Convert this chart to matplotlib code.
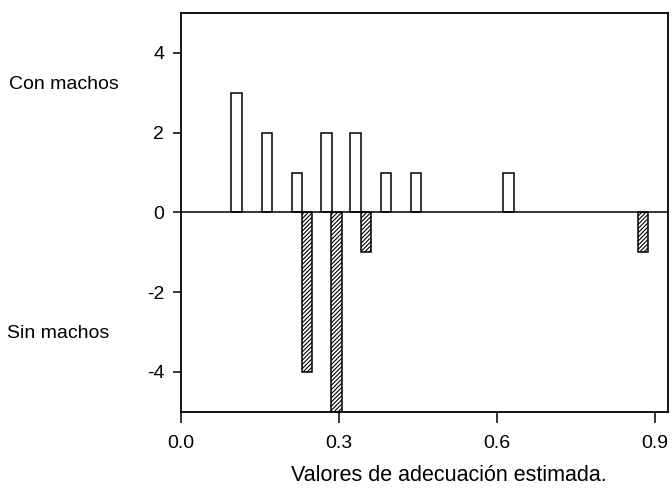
import numpy as np
import matplotlib.pyplot as plt

plt.rcParams['font.family'] = ['Liberation Sans', 'DejaVu Sans']
plt.rcParams['hatch.linewidth'] = 0.8
plt.rcParams['hatch.color'] = '#333333'

# positive bars ("Con machos")
x_con = [0.105, 0.163, 0.220, 0.276, 0.332, 0.389, 0.446, 0.622]
y_con = [3, 2, 1, 2, 2, 1, 1, 1]
# negative bars ("Sin machos")
x_sin = [0.239, 0.295, 0.351, 0.878]
y_sin = [-4, -5, -1, -1]

xticks = [0.0, 0.3, 0.6, 0.9]
xtick_labels = ['0.0', '0.3', '0.6', '0.9']
yticks = [4, 2, 0, -2, -4]
ytick_labels = ['4', '2', '0', '-2', '-4']

fig = plt.figure(figsize=(6.72, 4.98), dpi=100)
ax = fig.add_axes([0.2693, 0.173, 0.7247, 0.801])

ax.bar(x_con, y_con, width=0.02, color='white', edgecolor='black', linewidth=1.1, zorder=2)
ax.bar(x_sin, y_sin, width=0.02, color='white', edgecolor='black', linewidth=1.1,
       hatch='////////', zorder=2)
ax.axhline(0, color='black', linewidth=1.1, zorder=3)

ax.set_xlim(0, 0.925)
ax.set_ylim(-5, 5)
ax.set_xticks(xticks)
ax.set_xticklabels(xtick_labels)
ax.set_yticks(yticks)
ax.set_yticklabels(ytick_labels)
ax.tick_params(direction='out', width=1.1, labelsize=14)
ax.tick_params(axis='x', length=8, pad=9)
ax.tick_params(axis='y', length=6, pad=6)
for s in ax.spines.values():
    s.set_linewidth(1.3)

fig.text(0.014, 0.831, 'Con machos', fontsize=14, va='center', ha='left')
fig.text(0.011, 0.331, 'Sin machos', fontsize=14, va='center', ha='left')
fig.text(0.668, 0.045, 'Valores de adecuación estimada.', fontsize=15.5, va='center', ha='center')

fig.savefig('out.png', dpi=100)
